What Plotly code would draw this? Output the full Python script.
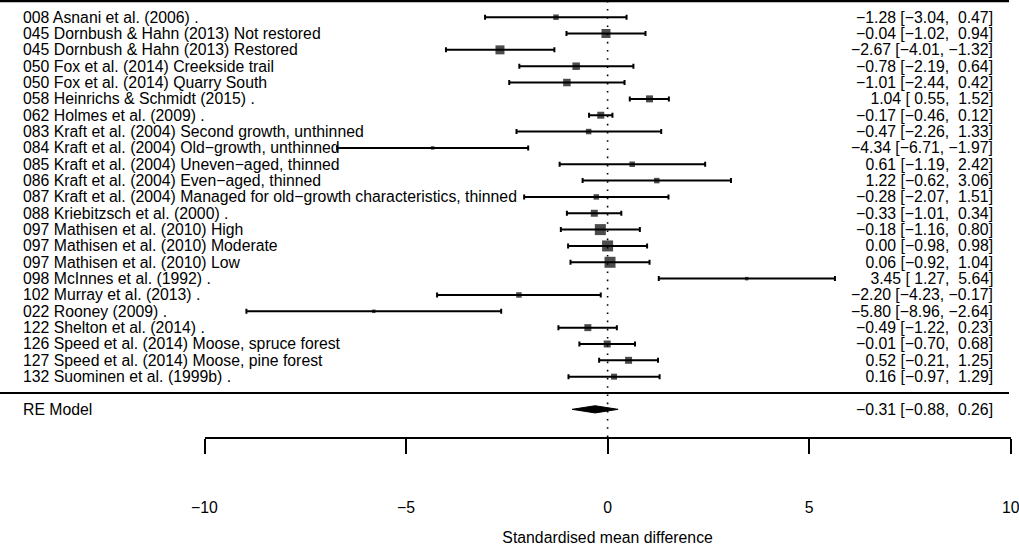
import plotly.graph_objects as go

labels = [
    "008 Asnani et al. (2006) .",
    "045 Dornbush & Hahn (2013) Not restored",
    "045 Dornbush & Hahn (2013) Restored",
    "050 Fox et al. (2014) Creekside trail",
    "050 Fox et al. (2014) Quarry South",
    "058 Heinrichs & Schmidt (2015) .",
    "062 Holmes et al. (2009) .",
    "083 Kraft et al. (2004) Second growth, unthinned",
    "084 Kraft et al. (2004) Old\u2212growth, unthinned",
    "085 Kraft et al. (2004) Uneven\u2212aged, thinned",
    "086 Kraft et al. (2004) Even\u2212aged, thinned",
    "087 Kraft et al. (2004) Managed for old\u2212growth characteristics, thinned",
    "088 Kriebitzsch et al. (2000) .",
    "097 Mathisen et al. (2010) High",
    "097 Mathisen et al. (2010) Moderate",
    "097 Mathisen et al. (2010) Low",
    "098 McInnes et al. (1992) .",
    "102 Murray et al. (2013) .",
    "022 Rooney (2009) .",
    "122 Shelton et al. (2014) .",
    "126 Speed et al. (2014) Moose, spruce forest",
    "127 Speed et al. (2014) Moose, pine forest",
    "132 Suominen et al. (1999b) .",
]
est = [-1.28, -0.04, -2.67, -0.78, -1.01, 1.04, -0.17, -0.47, -4.34, 0.61, 1.22, -0.28,
       -0.33, -0.18, 0.00, 0.06, 3.45, -2.20, -5.80, -0.49, -0.01, 0.52, 0.16]
lo = [-3.04, -1.02, -4.01, -2.19, -2.44, 0.55, -0.46, -2.26, -6.71, -1.19, -0.62, -2.07,
      -1.01, -1.16, -0.98, -0.92, 1.27, -4.23, -8.96, -1.22, -0.70, -0.21, -0.97]
hi = [0.47, 0.94, -1.32, 0.64, 0.42, 1.52, 0.12, 1.33, -1.97, 2.42, 3.06, 1.51,
      0.34, 0.80, 0.98, 1.04, 5.64, -0.17, -2.64, 0.23, 0.68, 1.25, 1.29]
# relative weights (marker size in px)
wsize = [5.5, 9, 9, 7.5, 7.5, 7, 7, 5.5, 3.5, 5.5, 5.5, 5.5, 7, 11, 11, 11, 3.5, 5.5, 3.5, 7, 7, 7, 6]

re_label = "RE Model"
re_est, re_lo, re_hi = -0.31, -0.88, 0.26

x_ticks = [-10, -5, 0, 5, 10]
x_title = "Standardised mean difference"

W, H = 1019, 546
k = len(labels)
rows = list(range(k, 0, -1))
re_row = -1

FONT = "Liberation Sans, Arial, Helvetica, sans-serif"
FS = 15.8


def fmt(v):
    return f"{v:5.2f}".replace("-", "\u2212")


def ci_text(e, l, h):
    s = f"{fmt(e)} [{fmt(l)}, {fmt(h)}]"
    return s.replace(" ", "\u00a0")


# pixel geometry
x_left_px, x_right_px = 204.5, 1010.7
row_px = 16.34
row0_px = 393.0
axis_px = 437.0
y_top = row0_px / row_px
y_bot = (row0_px - axis_px) / row_px
lab_x = 21 / W
ci_x = 995 / W

fig = go.Figure()

fig.add_trace(go.Scatter(
    x=est, y=rows, mode="markers",
    marker=dict(symbol="square", size=wsize, color="black", line=dict(width=0)),
    error_x=dict(type="data", symmetric=False,
                 array=[h - e for e, h in zip(est, hi)],
                 arrayminus=[e - l for e, l in zip(est, lo)],
                 color="black", thickness=2.0, width=2.5),
    showlegend=False, hoverinfo="skip", cliponaxis=False,
))

dh = 3.6 / row_px
fig.add_trace(go.Scatter(
    x=[re_lo, re_est, re_hi, re_est, re_lo],
    y=[re_row, re_row + dh, re_row, re_row - dh, re_row],
    mode="lines", fill="toself", fillcolor="black",
    line=dict(color="black", width=1),
    showlegend=False, hoverinfo="skip",
))

# reference line at 0
fig.add_shape(type="line", xref="x", yref="y", x0=0, x1=0, y0=y_bot, y1=k + 1,
              line=dict(color="black", width=1.6, dash="1.6px,6.6px"))
# horizontal rules
for r, lw in ((k + 1, 2.6), (0, 2.0)):
    fig.add_shape(type="line", xref="paper", yref="y", x0=0, x1=1009 / W, y0=r, y1=r,
                  line=dict(color="black", width=lw))

tf = dict(size=FS, color="black", family=FONT)
ann = []
for lab, r, e, l, h in zip(labels, rows, est, lo, hi):
    ann.append(dict(x=lab_x, xref="paper", y=r, yref="y", text=lab, xanchor="left",
                    yanchor="middle", showarrow=False, font=tf))
    ann.append(dict(x=ci_x, xref="paper", y=r, yref="y", text=ci_text(e, l, h), xanchor="right",
                    yanchor="middle", showarrow=False, font=tf))
ann.append(dict(x=lab_x, xref="paper", y=re_row, yref="y", text=re_label, xanchor="left",
                yanchor="middle", showarrow=False, font=tf))
ann.append(dict(x=ci_x, xref="paper", y=re_row, yref="y", text=ci_text(re_est, re_lo, re_hi),
                xanchor="right", yanchor="middle", showarrow=False, font=tf))

fig.update_layout(
    width=W, height=H,
    margin=dict(l=0, r=0, t=0, b=0),
    paper_bgcolor="white", plot_bgcolor="white",
    font=dict(family=FONT, size=FS, color="black"),
    annotations=ann,
    xaxis=dict(domain=[x_left_px / W, x_right_px / W], range=[-10, 10],
               tickvals=x_ticks, showgrid=False, zeroline=False,
               showline=True, linecolor="black", linewidth=1.8,
               ticks="outside", ticklen=15, tickwidth=1.8, tickcolor="black",
               ticklabelstandoff=40, tickfont=dict(size=FS),
               ticklabeloverflow="allow",
               automargin=False,
               title=dict(text=x_title, font=dict(size=FS), standoff=18)),
    yaxis=dict(domain=[1 - axis_px / H, 1], range=[y_bot, y_top],
               visible=False, showgrid=False, zeroline=False),
)

fig.write_html("out.html",
               config={"displayModeBar": False},
               post_script="document.body.style.margin='0';document.body.style.padding='0';"
                           "document.body.style.overflow='hidden';")
